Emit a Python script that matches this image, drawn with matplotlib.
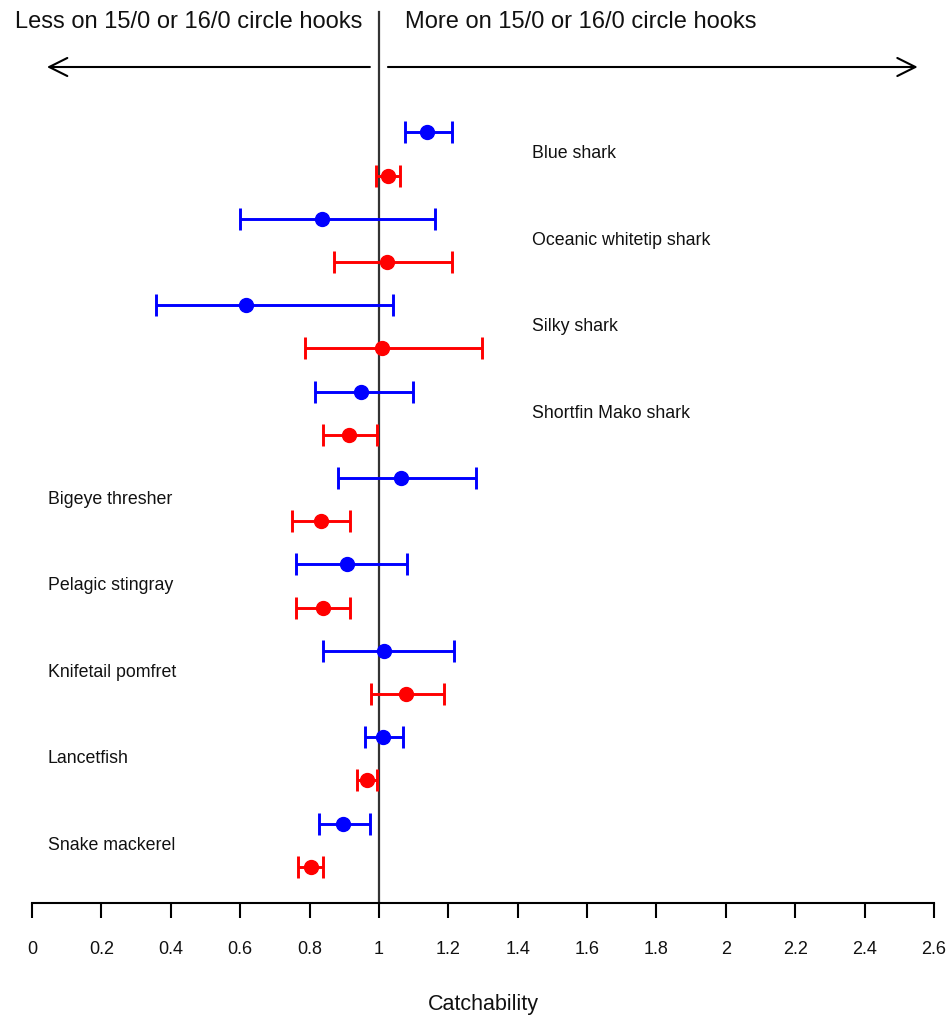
import matplotlib
matplotlib.use("Agg")
import matplotlib.pyplot as plt
import numpy as np

plt.rcParams['font.family'] = ['Liberation Sans', 'DejaVu Sans']

species = ["Blue shark", "Oceanic whitetip shark", "Silky shark", "Shortfin Mako shark",
           "Bigeye thresher", "Pelagic stingray", "Knifetail pomfret", "Lancetfish",
           "Snake mackerel"]
label_side = ["right", "right", "right", "right", "left", "left", "left", "left", "left"]

blue_est = [1.139, 0.835, 0.617, 0.947, 1.063, 0.909, 1.014, 1.012, 0.897]
blue_lo = [1.075, 0.599, 0.357, 0.816, 0.881, 0.761, 0.840, 0.960, 0.828]
blue_hi = [1.211, 1.161, 1.041, 1.097, 1.281, 1.080, 1.217, 1.068, 0.974]

red_est = [1.025, 1.022, 1.010, 0.914, 0.832, 0.838, 1.077, 0.966, 0.803]
red_lo = [0.991, 0.871, 0.787, 0.840, 0.750, 0.761, 0.976, 0.937, 0.767]
red_hi = [1.060, 1.212, 1.298, 0.995, 0.918, 0.918, 1.188, 0.995, 0.840]

xticks = [0, 0.2, 0.4, 0.6, 0.8, 1, 1.2, 1.4, 1.6, 1.8, 2, 2.2, 2.4, 2.6]
xtick_labels = ["0", "0.2", "0.4", "0.6", "0.8", "1", "1.2", "1.4", "1.6", "1.8",
                "2", "2.2", "2.4", "2.6"]

W, H = 949, 1017
fig = plt.figure(figsize=(W / 100, H / 100), dpi=100)
left_px, right_px, bottom_px = 32, 934, 903
ax = fig.add_axes([left_px / W, (H - bottom_px) / H, (right_px - left_px) / W, bottom_px / H])

n = len(species)
blue_y = np.arange(n) * 2 + 1
red_y = blue_y + 1

# y mapping: row 1 at pixel 132.3, spacing 43.2
row0_px, step_px = 132.3, 43.2
ytop = 1 - row0_px / step_px
ybot = 1 + (bottom_px - row0_px) / step_px
ax.set_xlim(0, 2.6)
ax.set_ylim(ybot, ytop)

def py(p):
    return 1 + (p - row0_px) / step_px

err_kw = dict(fmt='o', markersize=10, elinewidth=2.1, capsize=8, capthick=2.1, zorder=3)
ax.errorbar(blue_est, blue_y,
            xerr=[np.array(blue_est) - np.array(blue_lo), np.array(blue_hi) - np.array(blue_est)],
            color='#0000FF', **err_kw)
ax.errorbar(red_est, red_y,
            xerr=[np.array(red_est) - np.array(red_lo), np.array(red_hi) - np.array(red_est)],
            color='#FF0000', **err_kw)

# vertical reference line
ax.plot([1, 1], [py(12), ybot], color='#333333', lw=1.6, zorder=2, clip_on=False)

for i, (sp, side) in enumerate(zip(species, label_side)):
    ymid = (blue_y[i] + red_y[i]) / 2
    xpos = 1.441 if side == "right" else 0.046
    ax.text(xpos, ymid, sp, ha='left', va='center', fontsize=12.8, color='#111111')

# arrows and header text
ya = py(67)
arrow_kw = dict(arrowstyle='->,head_length=1.3,head_width=0.65', lw=1.5, color='black',
                shrinkA=0, shrinkB=0)
ax.annotate("", xy=(0.043, ya), xytext=(0.974, ya), arrowprops=arrow_kw)
ax.annotate("", xy=(2.553, ya), xytext=(1.026, ya), arrowprops=arrow_kw)
ax.text(0.951, py(22), "Less on 15/0 or 16/0 circle hooks", ha='right', va='center',
        fontsize=17, color='#111111')
ax.text(1.075, py(22), "More on 15/0 or 16/0 circle hooks", ha='left', va='center',
        fontsize=17, color='#111111')

for s in ['left', 'top', 'right']:
    ax.spines[s].set_visible(False)
ax.spines['bottom'].set_linewidth(1.5)
ax.set_yticks([])
ax.set_xticks(xticks)
ax.set_xticklabels(xtick_labels, fontsize=13, color='#111111')
ax.tick_params(axis='x', direction='out', length=11, width=1.5, pad=16)
ax.set_xlabel("Catchability", fontsize=15.5, labelpad=26, color='#111111')

fig.savefig("out.png", dpi=100)
